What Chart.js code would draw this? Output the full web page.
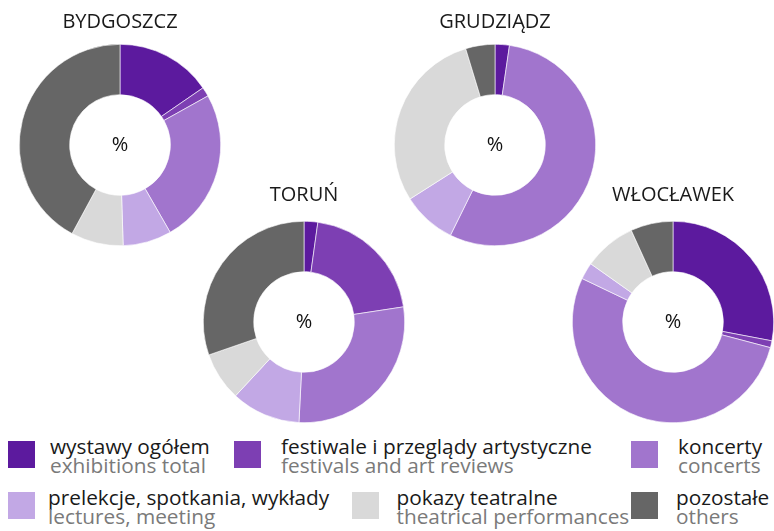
<!DOCTYPE html>
<html>
<head>
<meta charset="utf-8">
<script src="https://cdn.jsdelivr.net/npm/chart.js@4"></script>
<style>
  html, body { margin: 0; padding: 0; background: #fff; overflow: hidden; }
  body { width: 774px; height: 531px; position: relative; font-family: "Open Sans", sans-serif; }
  canvas { position: absolute; }
  .sw { position: absolute; width: 27px; height: 27px; }
  .txt { position: absolute; font-size: 20.8px; line-height: 19px; white-space: nowrap; }
  .pl { color: #1a1a1a; }
  .en { color: #7a7a7a; }
</style>
</head>
<body>
<canvas id="c0" width="210" height="246"></canvas>
<canvas id="c1" width="210" height="246"></canvas>
<canvas id="c2" width="210" height="250"></canvas>
<canvas id="c3" width="210" height="250"></canvas>
<div id="legend"></div>
<script>
// categories (Polish / English)
const categoriesPl = ['wystawy ogółem', 'festiwale i przeglądy artystyczne', 'koncerty',
  'prelekcje, spotkania, wykłady', 'pokazy teatralne', 'pozostałe'];
const categoriesEn = ['exhibitions total', 'festivals and art reviews', 'concerts',
  'lectures, meeting', 'theatrical performances', 'others'];

const cities = ['BYDGOSZCZ', 'GRUDZIĄDZ', 'TORUŃ', 'WŁOCŁAWEK'];

// shares in %
const bydgoszcz = [15.4, 1.5, 24.8, 7.8, 8.4, 42.1];
const grudziadz = [2.3, 0, 55.0, 8.7, 29.3, 4.7];
const torun = [2.2, 20.4, 28.2, 11.1, 7.8, 30.3];
const wloclawek = [28.0, 1.1, 53.0, 2.7, 8.4, 6.8];

const colors = ['#5c1a9e', '#7d3fb3', '#a175cd', '#c2a8e5', '#d9d9d9', '#666666'];

// layout
const boxes = [
  {left: 15, top: 0, padBottom: 10},
  {left: 390.3, top: 0, padBottom: 10},
  {left: 199, top: 172.5, padBottom: 14},
  {left: 568.3, top: 172.5, padBottom: 14}
];
const legendSlots = [
  {sq: 8, tx: 50, top: 441}, {sq: 234, tx: 281, top: 441}, {sq: 631, tx: 678, top: 441},
  {sq: 8, tx: 48, top: 492}, {sq: 351.5, tx: 396.5, top: 492}, {sq: 631, tx: 676, top: 492}
];

const centerLabel = {
  id: 'centerLabel',
  afterDraw(chart) {
    const arc = chart.getDatasetMeta(0).data[0];
    const ctx = chart.ctx;
    ctx.save();
    ctx.font = '20px "Open Sans"';
    ctx.fillStyle = '#111';
    ctx.textAlign = 'center';
    ctx.textBaseline = 'middle';
    ctx.fillText('%', arc.x, arc.y);
    ctx.restore();
  }
};

const series = [bydgoszcz, grudziadz, torun, wloclawek];

series.forEach((values, i) => {
  const cv = document.getElementById('c' + i);
  cv.style.left = boxes[i].left + 'px';
  cv.style.top = boxes[i].top + 'px';
  new Chart(cv.getContext('2d'), {
    type: 'doughnut',
    data: {
      labels: categoriesPl,
      datasets: [{
        data: values,
        backgroundColor: colors,
        borderColor: '#ffffff',
        borderWidth: 0.6
      }]
    },
    options: {
      responsive: false,
      animation: false,
      cutout: '50%',
      layout: { padding: 0 },
      plugins: {
        legend: { display: false },
        tooltip: { enabled: false },
        title: {
          display: true,
          text: cities[i],
          color: '#1a1a1a',
          font: { family: '"Open Sans"', size: 20, weight: 'normal', lineHeight: 1.2 },
          padding: { top: 10, bottom: boxes[i].padBottom }
        }
      }
    },
    plugins: [centerLabel]
  });
});

// legend
const legend = document.getElementById('legend');
categoriesPl.forEach((name, i) => {
  const s = legendSlots[i];
  const sw = document.createElement('div');
  sw.className = 'sw';
  sw.style.left = s.sq + 'px';
  sw.style.top = s.top + 'px';
  sw.style.background = colors[i];
  legend.appendChild(sw);
  const tx = document.createElement('div');
  tx.className = 'txt';
  tx.style.left = s.tx + 'px';
  tx.style.top = (s.top - 4) + 'px';
  tx.innerHTML = '<div class="pl">' + name + '</div><div class="en">' + categoriesEn[i] + '</div>';
  legend.appendChild(tx);
});
</script>
</body>
</html>
